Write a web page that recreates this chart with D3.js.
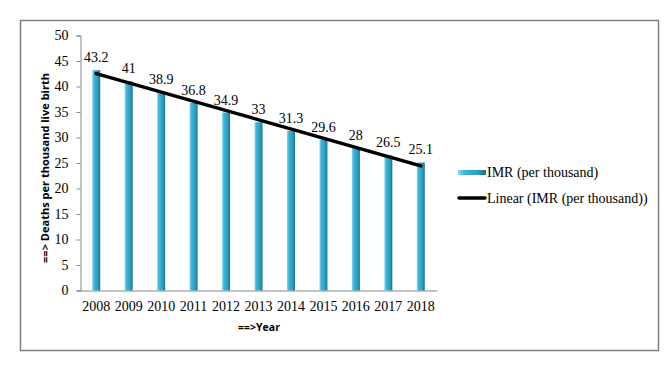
<!DOCTYPE html>
<html>
<head>
<meta charset="utf-8">
<script src="https://cdn.jsdelivr.net/npm/d3@7"></script>
<style>
	body { margin: 0; background: #fff; }
	#chart { width: 672px; height: 376px; }
	.serif, .tick text { font-family: "Liberation Serif", "Times New Roman", serif; font-size: 14px; fill: #000; }
	.title { font-family: "Open Sans", "Liberation Sans", sans-serif; font-weight: bold; font-size: 10.5px; fill: #000; }
</style>
</head>
<body>
<div id="chart"></div>
<script>
var years = ["2008", "2009", "2010", "2011", "2012", "2013", "2014", "2015", "2016", "2017", "2018"];
var imr = [43.2, 41, 38.9, 36.8, 34.9, 33, 31.3, 29.6, 28, 26.5, 25.1];
var yTicks = [0, 5, 10, 15, 20, 25, 30, 35, 40, 45, 50];
var seriesName = "IMR (per thousand)";
var trendName = "Linear (IMR (per thousand))";

var width = 672;
var height = 376;
var svg = d3.select("#chart")
	.append("svg")
	.attr("width", width)
	.attr("height", height);

// bar gradient, lighter on the left, dark edge on the right
var defs = svg.append("defs");
var grad = defs.append("linearGradient")
	.attr("id", "barGrad")
	.attr("x1", "0%").attr("x2", "100%")
	.attr("y1", "0%").attr("y2", "0%");
grad.append("stop").attr("offset", "0%").attr("stop-color", "#8fd8ea");
grad.append("stop").attr("offset", "25%").attr("stop-color", "#3bb5d6");
grad.append("stop").attr("offset", "70%").attr("stop-color", "#2a9fc0");
grad.append("stop").attr("offset", "100%").attr("stop-color", "#17708a");

// outer frame
svg.append("rect")
	.attr("x", 20.5).attr("y", 20.5)
	.attr("width", 638).attr("height", 330)
	.attr("fill", "none")
	.attr("stroke", "#7f7f7f")
	.attr("stroke-width", 1.5);

var xScale = d3.scaleBand()
	.domain(years)
	.range([80, 437]);

var yScale = d3.scaleLinear()
	.domain([0, 50])
	.range([290.5, 35.5]);

// y axis
var yAxis = d3.axisLeft(yScale)
	.tickValues(yTicks)
	.tickSize(4)
	.tickPadding(8);
var gy = svg.append("g")
	.attr("transform", "translate(80.5,0)")
	.call(yAxis);
gy.select(".domain").attr("stroke", "#868686");
gy.selectAll(".tick line").attr("stroke", "#868686");

// x axis
var xAxis = d3.axisBottom(xScale)
	.tickSize(0)
	.tickPadding(11);
var gx = svg.append("g")
	.attr("transform", "translate(0," + yScale(0) + ")")
	.call(xAxis);
gx.select(".domain").attr("stroke", "#868686");

// bars
var barW = 8;
svg.selectAll("rect.bar")
	.data(imr)
	.enter()
	.append("rect")
	.attr("class", "bar")
	.attr("x", function(d, i) {
		return xScale(years[i]) + xScale.bandwidth() / 2 - barW / 2;
	})
	.attr("y", function(d) { return yScale(d); })
	.attr("width", barW)
	.attr("height", function(d) { return yScale(0) - yScale(d); })
	.attr("fill", "url(#barGrad)");

// value labels
svg.selectAll("text.val")
	.data(imr)
	.enter()
	.append("text")
	.attr("class", "val serif")
	.attr("x", function(d, i) { return xScale(years[i]) + xScale.bandwidth() / 2; })
	.attr("y", function(d) { return yScale(d) - 8; })
	.attr("text-anchor", "middle")
	.text(function(d) { return d; });

// linear trend line (least squares)
var n = imr.length;
var mx = d3.mean(d3.range(n));
var my = d3.mean(imr);
var sxy = d3.sum(imr, function(d, i) { return (i - mx) * (d - my); });
var sxx = d3.sum(d3.range(n), function(i) { return (i - mx) * (i - mx); });
var slope = sxy / sxx;
var icpt = my - slope * mx;
var trend = [0, n - 1].map(function(i) { return [i, icpt + slope * i]; });

var line = d3.line()
	.x(function(d) { return xScale(years[d[0]]) + xScale.bandwidth() / 2; })
	.y(function(d) { return yScale(d[1]); });
svg.append("path")
	.datum(trend)
	.attr("d", line)
	.attr("fill", "none")
	.attr("stroke", "#000")
	.attr("stroke-width", 3.5)
	.attr("stroke-linecap", "round");

// axis titles
svg.append("text")
	.attr("class", "title")
	.attr("transform", "translate(49,168) rotate(-90)")
	.attr("text-anchor", "middle")
	.attr("textLength", 190)
	.attr("lengthAdjust", "spacingAndGlyphs")
	.text("==> Deaths per thousand live birth");

svg.append("text")
	.attr("class", "title")
	.attr("x", 259)
	.attr("y", 331)
	.attr("text-anchor", "middle")
	.text("==>Year");

// legend
var legend = svg.append("g");
legend.append("rect")
	.attr("x", 458).attr("y", 170)
	.attr("width", 28).attr("height", 5)
	.attr("fill", "url(#barGrad)");
legend.append("text")
	.attr("class", "serif")
	.attr("x", 487).attr("y", 177)
	.text(seriesName);
legend.append("line")
	.attr("x1", 459).attr("x2", 485)
	.attr("y1", 198).attr("y2", 198)
	.attr("stroke", "#000")
	.attr("stroke-width", 3.5)
	.attr("stroke-linecap", "round");
legend.append("text")
	.attr("class", "serif")
	.attr("x", 487).attr("y", 203)
	.text(trendName);
</script>
</body>
</html>
